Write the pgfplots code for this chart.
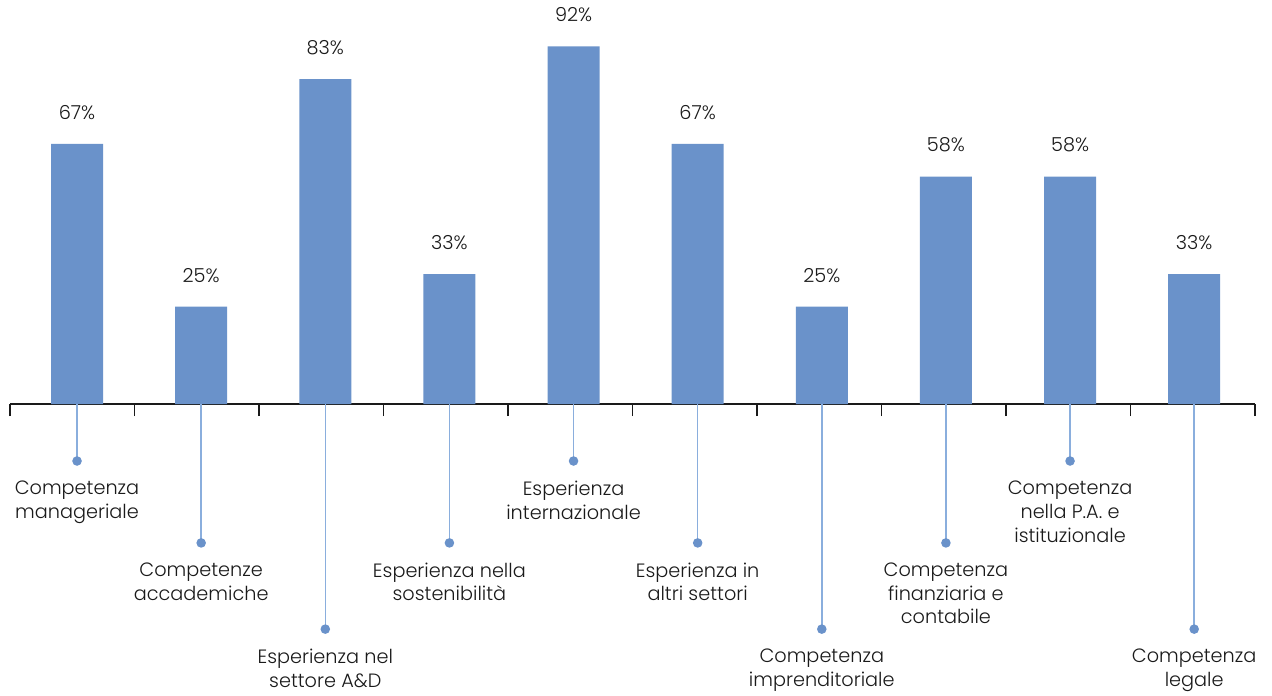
\documentclass[border=0pt]{standalone}
\usepackage{fontspec}
\setmainfont{Poppins}[UprightFont=* Light]
\usepackage{pgfplots}
\pgfplotsset{compat=1.18}

\definecolor{barblue}{HTML}{6A92CA}
\definecolor{leader}{HTML}{8AAEDD}
\definecolor{dotblue}{HTML}{6A92CA}
\definecolor{txt}{HTML}{1A1A1A}

% one reference pixel = 0.75bp
\begin{document}
\begin{tikzpicture}
\begin{axis}[
    x=93.08bp, y=2.925bp,
    xmin=-0.54, xmax=9.49, ymin=0, ymax=100,
    axis x line=bottom, hide y axis,
    axis line style={-, draw=txt, line width=1.1bp},
    xtick={-0.54,0.463,1.466,2.469,3.472,4.475,5.478,6.481,7.484,8.487,9.49},
    xticklabels={},
    tick align=outside, major tick length=9bp,
    tick style={draw=txt, line width=1.1bp},
    clip=false,
    /pgf/number format/assume math mode=true,
    font=\fontsize{14.5}{18}\selectfont,
]
\addplot[ybar, bar width=39bp, fill=barblue, draw=none,
    nodes near coords={\pgfmathprintnumber[fixed,precision=0]{\pgfplotspointmeta}\%},
    every node near coord/.style={anchor=south, inner sep=0pt, yshift=18bp,
        text=txt, font=\fontsize{14.5}{18}\selectfont}]
  coordinates {
    (0,66.7) (1,25) (2,83.3) (3,33.3) (4,91.7)
    (5,66.7) (6,25) (7,58.3) (8,58.3) (9,33.3)
  };
% leader lines with dots
\addplot[ycomb, draw=leader, line width=1.1bp, mark=*, mark size=3bp,
    mark options={fill=dotblue, draw=dotblue}]
  coordinates {
    (0,-14.6) (1,-35.6) (2,-57.7) (3,-35.6) (4,-14.6)
    (5,-35.6) (6,-57.7) (7,-35.6) (8,-14.6) (9,-57.7)
  };
\tikzset{lab/.style={anchor=north, align=center, inner sep=0pt, yshift=-14.5bp,
    text=txt, font=\fontsize{14.5}{18}\selectfont}}
\node[lab] at (axis cs:0,-14.6) {Competenza\\manageriale};
\node[lab] at (axis cs:1,-35.6) {Competenze\\accademiche};
\node[lab] at (axis cs:2,-57.7) {Esperienza nel\\settore A\&D};
\node[lab] at (axis cs:3,-35.6) {Esperienza nella\\sostenibilità};
\node[lab] at (axis cs:4,-14.6) {Esperienza\\internazionale};
\node[lab] at (axis cs:5,-35.6) {Esperienza in\\altri settori};
\node[lab] at (axis cs:6,-57.7) {Competenza\\imprenditoriale};
\node[lab] at (axis cs:7,-35.6) {Competenza\\finanziaria e\\contabile};
\node[lab] at (axis cs:8,-14.6) {Competenza\\nella P.A. e\\istituzionale};
\node[lab] at (axis cs:9,-57.7) {Competenza\\legale};
\coordinate (bbsw) at (axis cs:-0.6206,-74.62);
\coordinate (bbne) at (axis cs:9.627,103.59);
\end{axis}
\pgfresetboundingbox
\path[use as bounding box] (bbsw) rectangle (bbne);
\end{tikzpicture}
\end{document}
